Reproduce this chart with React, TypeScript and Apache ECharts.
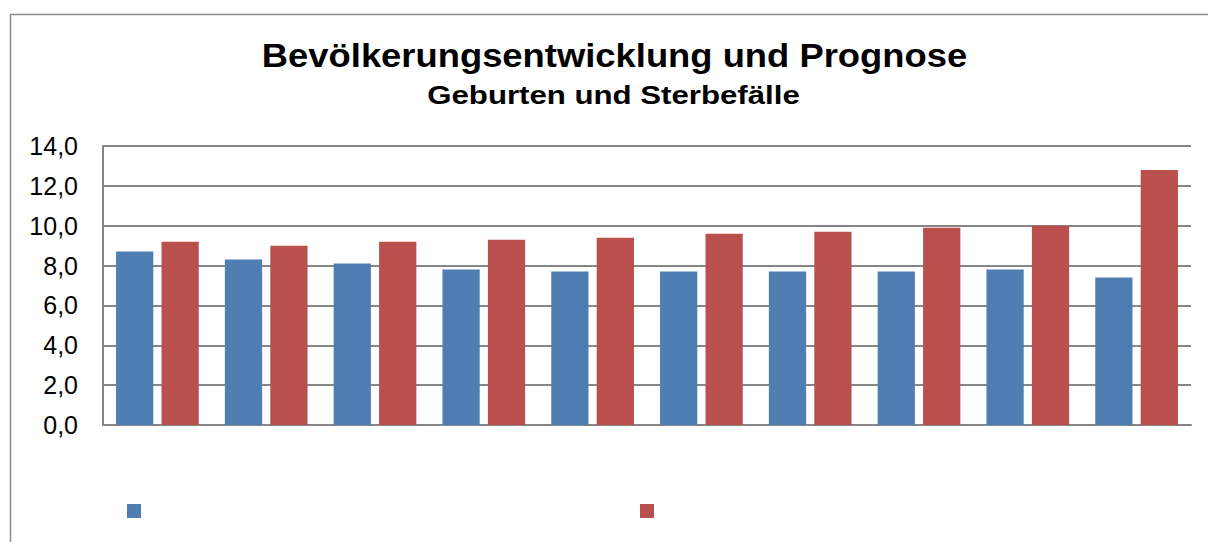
import React, { useEffect, useRef } from "react";
import * as echarts from "echarts";

const categories = ["1", "2", "3", "4", "5", "6", "7", "8", "9", "10"];
const geburten = [8.7, 8.3, 8.1, 7.8, 7.7, 7.7, 7.7, 7.7, 7.8, 7.4];
const sterbefaelle = [9.2, 9.0, 9.2, 9.3, 9.4, 9.6, 9.7, 9.9, 10.0, 12.8];
const titleText = "Bevölkerungsentwicklung und Prognose";
const subtitleText = "Geburten und Sterbefälle";

const FONT = "'Liberation Sans', Arial, sans-serif";

export default function App() {
  const ref = useRef<HTMLDivElement>(null);
  useEffect(() => {
    if (!ref.current) return;
    const chart = echarts.init(ref.current, undefined, { renderer: "svg" });
    chart.setOption({
      animation: false,
      backgroundColor: "#ffffff",
      graphic: [
        {
          type: "rect",
          shape: { x: 10.5, y: 14.5, width: 1230, height: 560 },
          style: { fill: "none", stroke: "#8c8c8c", lineWidth: 1.5 },
          silent: true,
        },
        {
          type: "text",
          x: 614.5,
          y: 55,
          scaleX: 1.07,
          style: {
            text: titleText,
            fontFamily: FONT,
            fontSize: 34,
            fontWeight: "bold",
            fill: "#000",
            align: "center",
            verticalAlign: "middle",
          },
        },
        {
          type: "text",
          x: 613.5,
          y: 94.5,
          scaleX: 1.2,
          style: {
            text: subtitleText,
            fontFamily: FONT,
            fontSize: 26,
            fontWeight: "bold",
            fill: "#000",
            align: "center",
            verticalAlign: "middle",
          },
        },
      ],
      legend: {
        left: 122,
        top: 499,
        itemWidth: 14,
        itemHeight: 14,
        itemGap: 499,
        icon: "rect",
        formatter: () => "",
        textStyle: { fontSize: 1 },
        data: ["Geburten", "Sterbefälle"],
      },
      grid: { left: 103, right: 17, top: 146, bottom: 117, containLabel: false },
      xAxis: {
        type: "category",
        data: categories,
        axisLine: { show: true, lineStyle: { color: "#868686", width: 2 } },
        axisTick: { show: false },
        axisLabel: { show: false },
      },
      yAxis: {
        type: "value",
        min: 0,
        max: 14,
        interval: 2,
        axisLine: { show: true, lineStyle: { color: "#868686", width: 2 } },
        axisTick: { show: false },
        axisLabel: {
          fontFamily: FONT,
          fontSize: 25,
          color: "#000",
          margin: 25,
          formatter: (v: number) => v.toFixed(1).replace(".", ","),
        },
        splitLine: { show: true, lineStyle: { color: "#868686", width: 2 } },
      },
      series: [
        {
          name: "Geburten",
          type: "bar",
          data: geburten,
          itemStyle: { color: "#4F7EB3" },
          barGap: "22%",
          barCategoryGap: "24%",
        },
        {
          name: "Sterbefälle",
          type: "bar",
          data: sterbefaelle,
          itemStyle: { color: "#B9504E" },
        },
      ],
    });
    return () => chart.dispose();
  }, []);
  return (
    <div
      ref={ref}
      style={{ position: "fixed", left: 0, top: 0, width: 1208, height: 542 }}
    />
  );
}
